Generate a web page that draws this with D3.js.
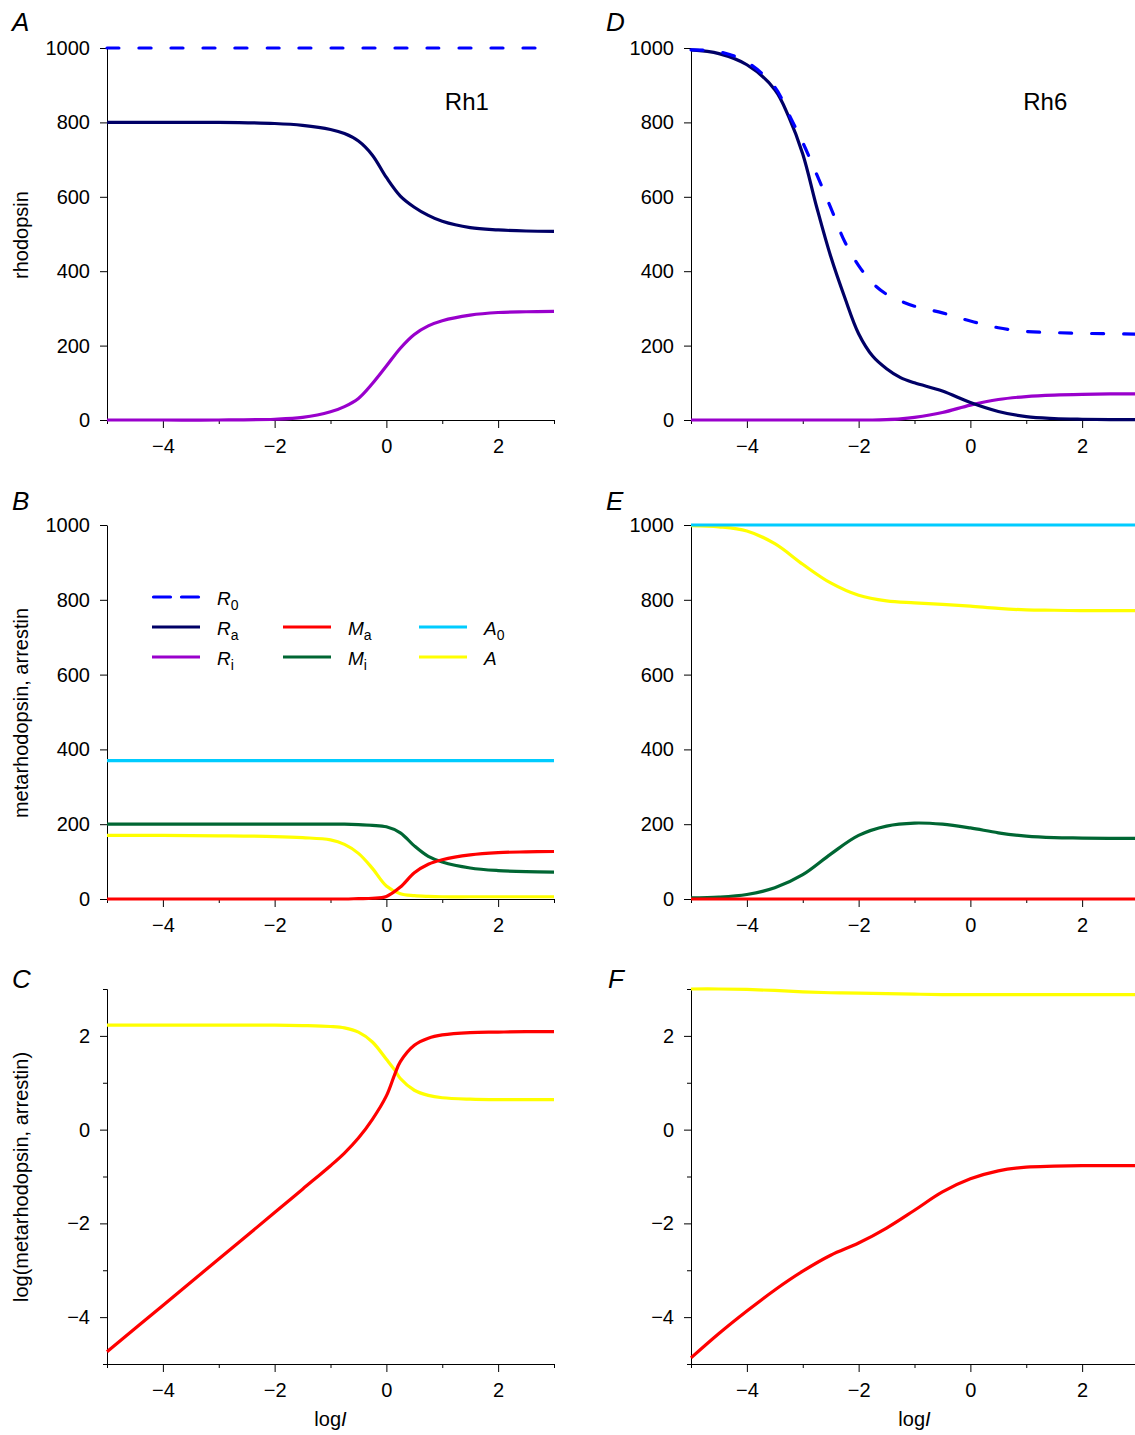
<!DOCTYPE html>
<html>
<head>
<meta charset="utf-8">
<script src="https://cdn.jsdelivr.net/npm/d3@7"></script>
<style>
  body { margin: 0; background: #fff; }
  svg { font-family: "Liberation Sans", Arial, Helvetica, sans-serif; }
  .axis text { font-size: 20px; fill: #000; }
  .axis path, .axis line { stroke: #000; stroke-width: 1; }
</style>
</head>
<body>
<svg width="1135" height="1435"></svg>
<script>
// log I sample points, one list per panel
const xsA = [-5, -4, -3, -2, -1.5, -1, -0.75, -0.5, -0.25, 0, 0.25, 0.5, 0.75, 1, 1.5, 2, 2.5, 3];
const xsB = xsA;
const xsC = [-5, -4, -3, -2, -1.5, -1, -0.75, -0.5, -0.25, 0, 0.15, 0.25, 0.5, 0.75, 1, 1.5, 2, 2.5, 3];
const xsD = [-5, -4.5, -4, -3.5, -3.25, -3, -2.75, -2.5, -2.25, -2, -1.75, -1.5, -1.25, -1, -0.5, 0, 0.5, 1, 1.5, 2, 2.5, 3];
const xsE = [-5, -4.5, -4, -3.5, -3, -2.5, -2, -1.5, -1, -0.5, 0, 0.5, 1, 1.5, 2, 2.5, 3];
const xsF = xsE;

// A: Rh1 rhodopsin
const rh1R0 = [1000, 1000, 1000, 1000, 1000, 1000, 1000, 1000, 1000, 1000, 1000, 1000, 1000, 1000, 1000, 1000, 1000, 1000];
const rh1Ra = [800, 800, 800, 797, 792, 781, 770, 750, 712, 652, 602, 572, 550, 534, 517, 511, 508, 507];
const rh1Ri = [0, 0, 0, 2, 7, 22, 36, 58, 98, 145, 193, 230, 253, 267, 282, 289, 291, 292];

// B: Rh1 metarhodopsin, arrestin
const rh1A0 = [370, 370, 370, 370, 370, 370, 370, 370, 370, 370, 370, 370, 370, 370, 370, 370, 370, 370];
const rh1Mi = [200, 200, 200, 200, 200, 200, 200, 199, 197, 193, 177, 142, 114, 99, 83, 76, 73, 72];
const rh1Arr = [170, 170, 169, 167, 164, 158, 146, 122, 82, 35, 14, 9, 7, 6, 6, 6, 6, 6];
const rh1Ma = [0, 0, 0, 0, 0, 0, 0, 1, 2, 7, 32, 70, 93, 105, 118, 124, 126, 127];

// C: Rh1 log values
const rh1LogMa = [-4.74, -3.75, -2.76, -1.77, -1.27, -0.77, -0.5, -0.18, 0.22, 0.72, 1.18, 1.45, 1.8, 1.95, 2.02, 2.07, 2.08, 2.09, 2.09];
const rh1LogA = [2.23, 2.23, 2.23, 2.23, 2.22, 2.2, 2.17, 2.08, 1.87, 1.5, 1.27, 1.09, 0.84, 0.73, 0.68, 0.65, 0.64, 0.64, 0.64];

// D: Rh6 rhodopsin
const rh6R0 = [995, 990, 962, 895, 822, 746, 660, 571, 480, 415, 368, 338, 320, 306, 288, 266, 248, 238, 235, 233, 232, 231];
const rh6Ra = [995, 985, 955, 888, 815, 715, 572, 440, 330, 232, 172, 138, 114, 100, 78, 47, 23, 9, 4, 2, 1, 1];
const rh6Ri = [0, 0, 0, 0, 0, 0, 0, 0, 0, 0, 0, 1, 3, 7, 20, 40, 55, 63, 67, 69, 70, 70];

// E: Rh6 metarhodopsin, arrestin
const rh6A0 = [1000, 1000, 1000, 1000, 1000, 1000, 1000, 1000, 1000, 1000, 1000, 1000, 1000, 1000, 1000, 1000, 1000];
const rh6Arr = [998, 995, 984, 950, 895, 845, 812, 797, 792, 788, 783, 777, 773, 772, 771, 771, 771];
const rh6Mi = [3, 5, 12, 30, 65, 120, 170, 195, 203, 200, 190, 177, 168, 164, 163, 162, 162];
const rh6Ma = [0, 0, 0, 0, 0, 0, 0, 0, 0, 0, 0, 0, 0, 0, 0, 0, 0];

// F: Rh6 log values
const rh6LogA = [3.0, 3.0, 2.99, 2.97, 2.94, 2.92, 2.91, 2.9, 2.89, 2.88, 2.88, 2.88, 2.88, 2.88, 2.88, 2.88, 2.88];
const rh6LogMa = [-4.87, -4.35, -3.87, -3.42, -3.02, -2.68, -2.42, -2.1, -1.72, -1.33, -1.05, -0.88, -0.8, -0.78, -0.77, -0.77, -0.77];

const xMajor = [-4, -2, 0, 2];
const xMinor = [-5, -3, -1, 1, 3];
const yLinTicks = [0, 200, 400, 600, 800, 1000];
const yLogMajor = [-4, -2, 0, 2];
const yLogMinor = [-5, -3, -1, 1, 3];

const colors = {
  R0: '#0000ff', Ra: '#000066', Ri: '#9900cc',
  Ma: '#ff0000', Mi: '#006633', A0: '#00ccff', A: '#ffff00'
};

const panels = [
  { letter: 'A', col: 0, row: 0, log: false, xs: xsA, tag: 'Rh1', tagX: 1.44,
    series: [['Ra', rh1Ra], ['Ri', rh1Ri], ['R0', rh1R0]] },
  { letter: 'B', col: 0, row: 1, log: false, xs: xsB,
    series: [['A0', rh1A0], ['Mi', rh1Mi], ['A', rh1Arr], ['Ma', rh1Ma]] },
  { letter: 'C', col: 0, row: 2, log: true, xs: xsC,
    series: [['A', rh1LogA], ['Ma', rh1LogMa]] },
  { letter: 'D', col: 1, row: 0, log: false, xs: xsD, tag: 'Rh6', tagX: 1.34,
    series: [['Ri', rh6Ri], ['Ra', rh6Ra], ['R0', rh6R0]] },
  { letter: 'E', col: 1, row: 1, log: false, xs: xsE,
    series: [['Mi', rh6Mi], ['A', rh6Arr], ['A0', rh6A0], ['Ma', rh6Ma]] },
  { letter: 'F', col: 1, row: 2, log: true, xs: xsF,
    series: [['A', rh6LogA], ['Ma', rh6LogMa]] }
];

const colX = [[107, 554], [691, 1138]];
const rowY = [[420, 48], [899, 525], [1364, 989]];
const letterPos = [[[12, 31], [12, 510], [12, 988]], [[606, 31], [606, 510], [608, 988]]];

const svg = d3.select('svg');

panels.forEach(p => {
  const x = d3.scaleLinear().domain([-5, 3]).range(colX[p.col]);
  const y = d3.scaleLinear()
    .domain(p.log ? [-5, 3] : [0, 1000])
    .range(rowY[p.row]);
  const g = svg.append('g');
  const x0 = colX[p.col][0];
  const yb = rowY[p.row][0];

  // x axis: labelled majors and short minors
  g.append('g').attr('class', 'axis')
    .attr('transform', `translate(0,${yb})`)
    .call(d3.axisBottom(x).tickValues(xMinor).tickSize(4).tickSizeOuter(0).tickFormat(''));
  g.append('g').attr('class', 'axis')
    .attr('transform', `translate(0,${yb})`)
    .call(d3.axisBottom(x).tickValues(xMajor).tickSize(8).tickSizeOuter(0).tickPadding(11)
      .tickFormat(d3.format('d')));

  // y axis
  if (p.log) {
    g.append('g').attr('class', 'axis')
      .attr('transform', `translate(${x0},0)`)
      .call(d3.axisLeft(y).tickValues(yLogMinor).tickSize(4).tickSizeOuter(0).tickFormat(''));
    g.append('g').attr('class', 'axis')
      .attr('transform', `translate(${x0},0)`)
      .call(d3.axisLeft(y).tickValues(yLogMajor).tickSize(7).tickSizeOuter(0).tickPadding(10)
        .tickFormat(d3.format('d')));
  } else {
    g.append('g').attr('class', 'axis')
      .attr('transform', `translate(${x0},0)`)
      .call(d3.axisLeft(y).tickValues(yLinTicks).tickSize(7).tickSizeOuter(0).tickPadding(10)
        .tickFormat(d3.format('d')));
  }
  g.selectAll('.axis text').attr('font-size', 20).attr('font-family', null);

  // curves
  const line = d3.line()
    .x((d, i) => x(p.xs[i]))
    .y(d => y(d))
    .curve(d3.curveCatmullRom.alpha(0.5));
  p.series.forEach(([key, vals]) => {
    g.append('path')
      .datum(vals)
      .attr('d', line)
      .attr('fill', 'none')
      .attr('stroke', colors[key])
      .attr('stroke-width', 3.2)
      .attr('stroke-linecap', key === 'R0' ? 'round' : 'butt')
      .attr('stroke-dasharray', key === 'R0' ? '12,20' : null);
  });

  // panel letter
  const lp = letterPos[p.col][p.row];
  svg.append('text')
    .attr('x', lp[0]).attr('y', lp[1])
    .attr('font-size', 26).attr('font-style', 'italic')
    .text(p.letter);

  if (p.tag) {
    g.append('text')
      .attr('x', x(p.tagX)).attr('y', 110)
      .attr('text-anchor', 'middle')
      .attr('font-size', 24)
      .text(p.tag);
  }

  // x title under bottom row
  if (p.row === 2) {
    const t = g.append('text')
      .attr('x', x(-1.0)).attr('y', 1426)
      .attr('text-anchor', 'middle')
      .attr('font-size', 20);
    t.append('tspan').text('log');
    t.append('tspan').attr('font-style', 'italic').text('I');
  }
});

// y axis titles
const yTitles = [['rhodopsin', 235], ['metarhodopsin, arrestin', 713], ['log(metarhodopsin, arrestin)', 1177]];
yTitles.forEach(([label, cy]) => {
  svg.append('text')
    .attr('transform', `translate(28,${cy}) rotate(-90)`)
    .attr('text-anchor', 'middle')
    .attr('font-size', 20)
    .text(label);
});

// legend in panel B
const legendItems = [
  ['R0', 'R', '0', 0, 0], ['Ra', 'R', 'a', 0, 1], ['Ri', 'R', 'i', 0, 2],
  ['Ma', 'M', 'a', 1, 1], ['Mi', 'M', 'i', 1, 2],
  ['A0', 'A', '0', 2, 1], ['A', 'A', '', 2, 2]
];
const legendColX = [152, 283, 419];
const legendRowY = [597, 627, 657];
const legend = svg.append('g');
legendItems.forEach(([key, main, sub, c, r]) => {
  const lx = legendColX[c], ly = legendRowY[r];
  legend.append('line')
    .attr('x1', lx + (key === 'R0' ? 1.5 : 0)).attr('x2', lx + 48 - (key === 'R0' ? 1.5 : 0))
    .attr('y1', ly).attr('y2', ly)
    .attr('stroke', colors[key]).attr('stroke-width', 3.2)
    .attr('stroke-linecap', key === 'R0' ? 'round' : 'butt')
    .attr('stroke-dasharray', key === 'R0' ? '17,11' : null);
  const t = legend.append('text')
    .attr('x', lx + 65).attr('y', ly + 8)
    .attr('font-size', 19);
  t.append('tspan').attr('font-style', 'italic').text(main);
  if (sub) t.append('tspan').attr('font-size', 14).attr('dy', 5).text(sub);
});
</script>
</body>
</html>
